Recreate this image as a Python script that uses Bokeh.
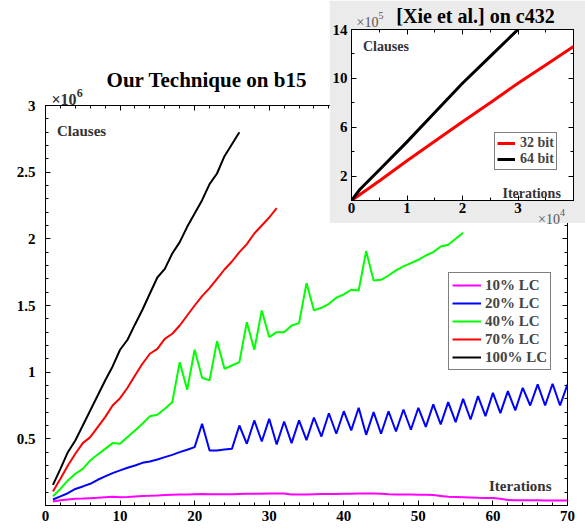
from bokeh.plotting import figure
from bokeh.models import FixedTicker, LinearAxis, Legend, LegendItem, Label, Range1d, NumeralTickFormatter, Div
from bokeh.embed import file_html
from bokeh.resources import INLINE

# ---------------- data (main chart: clauses in units of 10^6) ----------------
iterations = list(range(1, 71))

lc10 = [0.030, 0.040, 0.045, 0.050, 0.052, 0.055, 0.058, 0.062, 0.065, 0.062,
        0.063, 0.068, 0.072, 0.073, 0.075, 0.078, 0.080, 0.082, 0.083, 0.085,
        0.087, 0.085, 0.085, 0.084, 0.085, 0.087, 0.088, 0.088, 0.089, 0.090,
        0.090, 0.090, 0.082, 0.082, 0.083, 0.085, 0.086, 0.086, 0.087, 0.088,
        0.089, 0.090, 0.090, 0.090, 0.088, 0.085, 0.083, 0.082, 0.082, 0.081,
        0.080, 0.078, 0.072, 0.066, 0.064, 0.062, 0.060, 0.058, 0.057, 0.057,
        0.050, 0.042, 0.040, 0.040, 0.039, 0.039, 0.038, 0.038, 0.038, 0.038]

lc20 = [0.045, 0.068, 0.092, 0.124, 0.143, 0.163, 0.193, 0.218, 0.243, 0.263,
        0.283, 0.300, 0.320, 0.330, 0.345, 0.363, 0.380, 0.400, 0.418, 0.438,
        0.613, 0.413, 0.413, 0.420, 0.425, 0.600, 0.463, 0.638, 0.480, 0.650,
        0.458, 0.630, 0.468, 0.638, 0.490, 0.660, 0.517, 0.692, 0.538, 0.707,
        0.563, 0.733, 0.530, 0.700, 0.538, 0.707, 0.555, 0.720, 0.568, 0.733,
        0.590, 0.758, 0.608, 0.775, 0.625, 0.800, 0.645, 0.820, 0.670, 0.845,
        0.693, 0.858, 0.713, 0.883, 0.750, 0.908, 0.750, 0.913, 0.750, 0.908]

lc40 = [0.070, 0.124, 0.188, 0.238, 0.275, 0.338, 0.383, 0.425, 0.468, 0.463,
        0.513, 0.563, 0.613, 0.670, 0.680, 0.725, 0.775, 1.075, 0.868, 1.168,
        0.958, 0.938, 1.233, 1.025, 1.050, 1.075, 1.375, 1.168, 1.463, 1.263,
        1.300, 1.300, 1.350, 1.368, 1.668, 1.463, 1.483, 1.513, 1.558, 1.583,
        1.618, 1.613, 1.908, 1.688, 1.693, 1.725, 1.763, 1.793, 1.818, 1.843,
        1.875, 1.900, 1.943, 1.955, 2.000, 2.045]

lc70 = [0.105, 0.200, 0.300, 0.388, 0.468, 0.513, 0.588, 0.663, 0.750, 0.805,
        0.883, 0.975, 1.063, 1.138, 1.175, 1.250, 1.288, 1.350, 1.425, 1.500,
        1.570, 1.630, 1.700, 1.770, 1.830, 1.900, 1.960, 2.040, 2.100, 2.160,
        2.230]

lc100 = [0.155, 0.275, 0.400, 0.488, 0.600, 0.713, 0.825, 0.938, 1.043, 1.168,
         1.243, 1.358, 1.468, 1.590, 1.710, 1.775, 1.890, 1.975, 2.090, 2.190,
         2.290, 2.410, 2.490, 2.620, 2.710, 2.800]

series_labels = ["10% LC", "20% LC", "40% LC", "70% LC", "100% LC"]
series_colors = ["#ff00ff", "#0000ff", "#00ff00", "#ff0000", "#000000"]

x_ticks = [0, 10, 20, 30, 40, 50, 60, 70]
x_minor = list(range(0, 71, 2))
y_ticks = [0.5, 1.0, 1.5, 2.0, 2.5, 3.0]
y_minor = [i / 10 for i in range(0, 31)]

# ---------------- data (inset: iterations x10^4, clauses x10^5) ----------------
bit32_x = [0, 0.5, 1.0, 1.5, 2.0, 2.5, 3.0, 3.5, 4.0]
bit32_y = [0, 1.6, 3.25, 4.85, 6.45, 8.0, 9.6, 11.1, 12.6]
bit64_x = [0, 0.15, 0.5, 1.0, 1.5, 2.0, 2.5, 3.0]
bit64_y = [0, 0.9, 2.5, 4.8, 7.2, 9.6, 11.8, 14.0]
inset_x_ticks = [0, 1, 2, 3]
inset_x_minor = [i / 2 for i in range(0, 9)]
inset_y_ticks = [2, 6, 10, 14]
inset_y_minor = list(range(0, 15, 2))

FONT = "Liberation Serif"


def style_axis(ax, size, standoff):
    ax.axis_line_color = "black"
    ax.axis_line_width = 1
    ax.major_tick_in = 5
    ax.major_tick_out = 0
    ax.minor_tick_in = 3
    ax.minor_tick_out = 0
    ax.major_tick_line_color = "black"
    ax.minor_tick_line_color = "black"
    ax.major_label_text_font = FONT
    ax.major_label_text_font_style = "bold"
    ax.major_label_text_color = "black"
    ax.major_label_text_font_size = size
    ax.major_label_standoff = standoff


def tick_only_axes(fig, side, majors, minors):
    # unlabelled mirror axes: ticks only (drawn as "minor" ticks so no labels exist)
    for pos, length in ((minors, 3), (majors, 5)):
        ax = LinearAxis(ticker=FixedTicker(ticks=[], minor_ticks=pos))
        ax.axis_line_color = "black"
        ax.major_tick_line_color = None
        ax.minor_tick_in = length
        ax.minor_tick_out = 0
        ax.minor_tick_line_color = "black"
        ax.major_label_standoff = 0
        ax.axis_label_standoff = 0
        fig.add_layout(ax, side)


def add_label(fig, x, y, text, size, bold=True, color="black", align="left"):
    fig.add_layout(Label(x=x, y=y, x_units="screen", y_units="screen", text=text,
                         text_font=FONT, text_font_size=size,
                         text_font_style="bold" if bold else "normal",
                         text_color=color, text_align=align,
                         text_baseline="alphabetic"))


def text_div(html, left, baseline, size, bold=True, color="black", width=None, align="left"):
    top = baseline - 0.8375 * size - 2
    st = {"position": "absolute", "left": f"{left}px", "top": f"{top:.1f}px",
          "font-family": FONT, "font-size": f"{size}px", "line-height": "1",
          "font-weight": "bold" if bold else "normal", "color": color,
          "white-space": "nowrap", "z-index": "10", "text-align": align}
    d = Div(text=html, styles=st)
    if width is not None:
        d.width = width
    return d


def sup_html(base, exp, exp_size, raise_px):
    return (f"{base}<span style='font-size:{exp_size}px;position:relative;"
            f"top:-{raise_px}px'>{exp}</span>")


# ================= main figure =================
p = figure(width=585, height=529, output_backend="svg", toolbar_location=None,
           x_range=Range1d(0, 70), y_range=Range1d(0, 3),
           min_border_left=45, min_border_right=18, min_border_top=105, min_border_bottom=24)
p.styles = {"position": "absolute", "left": "0px", "top": "0px"}
p.xgrid.visible = False
p.ygrid.visible = False
p.outline_line_color = "black"
p.background_fill_color = "white"
p.border_fill_color = "white"

style_axis(p.xaxis[0], "15px", 5)
p.xaxis[0].ticker = FixedTicker(ticks=x_ticks, minor_ticks=x_minor)
style_axis(p.yaxis[0], "15px", 10)
p.yaxis[0].ticker = FixedTicker(ticks=y_ticks, minor_ticks=y_minor)
p.yaxis[0].formatter = NumeralTickFormatter(format="0.[0]")
tick_only_axes(p, "above", x_ticks, x_minor)
tick_only_axes(p, "right", y_ticks, y_minor)

all_series = [lc10, lc20, lc40, lc70, lc100]
renderers = []
for vals, col in zip(all_series, series_colors):
    r = p.line(iterations[:len(vals)], vals, line_color=col, line_width=2)
    renderers.append(r)

legend = Legend(items=[LegendItem(label=lab, renderers=[r]) for lab, r in zip(series_labels, renderers)],
                location=(403, 135))
legend.label_text_font = FONT
legend.label_text_font_style = "bold"
legend.label_text_font_size = "15px"
legend.glyph_width = 29
legend.glyph_height = 18
legend.label_height = 18
legend.spacing = 0
legend.padding = 3
legend.margin = 0
legend.label_standoff = 4
legend.border_line_color = "black"
legend.border_line_width = 1
legend.background_fill_color = "white"
legend.background_fill_alpha = 1
p.add_layout(legend)

add_label(p, 11.5, 375, "Clauses", "15px", color="#333333")
add_label(p, 443.5, 20, "Iterations", "15px", color="#333333")

# ================= inset figure =================
q = figure(width=256, height=223, output_backend="svg", toolbar_location=None,
           x_range=Range1d(0, 4), y_range=Range1d(0, 14),
           min_border_left=20, min_border_right=12, min_border_top=29, min_border_bottom=23)
q.styles = {"position": "absolute", "left": "329px", "top": "0px"}
q.xgrid.visible = False
q.ygrid.visible = False
q.outline_line_color = "black"
q.background_fill_color = "white"
q.border_fill_color = "#ebebeb"

style_axis(q.xaxis[0], "15px", 2)
q.xaxis[0].ticker = FixedTicker(ticks=inset_x_ticks, minor_ticks=inset_x_minor)
style_axis(q.yaxis[0], "15px", 4)
q.yaxis[0].ticker = FixedTicker(ticks=inset_y_ticks, minor_ticks=inset_y_minor)
tick_only_axes(q, "above", inset_x_ticks, inset_x_minor)
tick_only_axes(q, "right", inset_y_ticks, inset_y_minor)

r32 = q.line(bit32_x, bit32_y, line_color="#ff0000", line_width=3)
r64 = q.line(bit64_x, bit64_y, line_color="#000000", line_width=3)

ileg = Legend(items=[LegendItem(label="32 bit", renderers=[r32]),
                     LegendItem(label="64 bit", renderers=[r64])],
              location=(143, 30))
ileg.label_text_font = FONT
ileg.label_text_font_style = "bold"
ileg.label_text_font_size = "14px"
ileg.glyph_width = 18
ileg.glyph_height = 12
ileg.label_height = 12
ileg.spacing = 0
ileg.padding = 2
ileg.margin = 0
ileg.label_standoff = 5
ileg.border_line_color = "black"
ileg.background_fill_color = "white"
ileg.background_fill_alpha = 1
q.add_layout(ileg)

add_label(q, 11.5, 154.5, "Clauses", "14px", color="#333333")
add_label(q, 151, 7.5, "Iterations", "14px", color="#333333")

# ================= texts outside the plot frames =================
divs = [
    text_div("Our Technique on b15", 51.5, 85, 21, width=300, align="center"),
    text_div(sup_html("\u00d710", "6", 12, 8), 46.5, 102, 16, color="#333333"),
    text_div("[Xie et al.] on c432", 370.5, 19.5, 20, width=200, align="center"),
    text_div(sup_html("\u00d710", "5", 10, 8), 351.5, 25, 14, bold=False, color="#555555"),
    text_div(sup_html("\u00d710", "4", 10, 8), 533, 221.5, 14, bold=False, color="#555555"),
]

open("out.html", "w").write(file_html([p, q] + divs, INLINE))
